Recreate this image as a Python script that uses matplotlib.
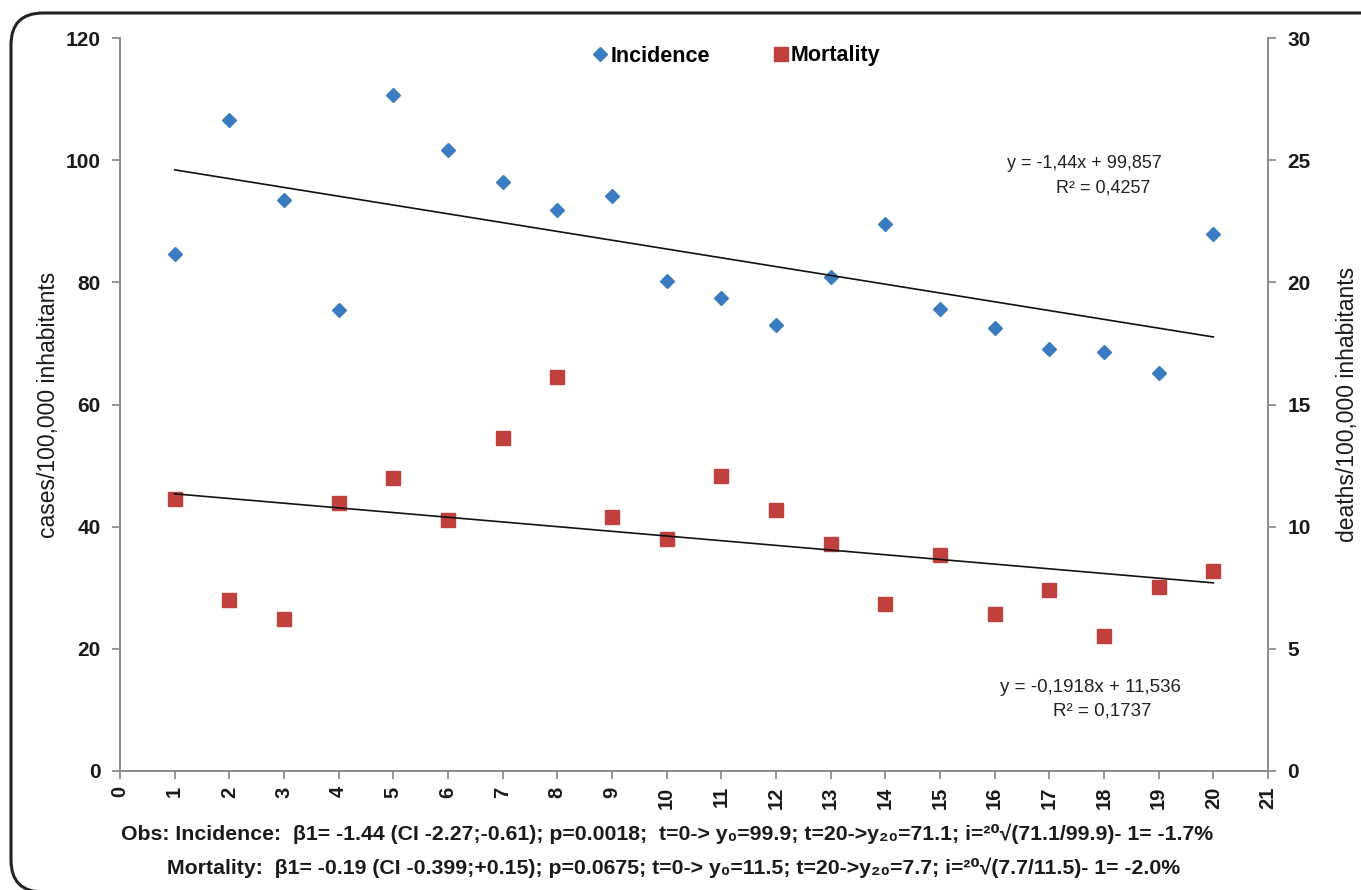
import numpy as np
import matplotlib.pyplot as plt
from matplotlib.patches import FancyBboxPatch

# data
years = np.arange(1, 21)
incidence = [84.6, 106.5, 93.4, 75.5, 110.7, 101.6, 96.5, 91.8, 94.2, 80.2,
             77.4, 73.0, 80.8, 89.6, 75.7, 72.5, 69.1, 68.6, 65.2, 87.9]
mortality = [11.13, 6.99, 6.24, 10.97, 11.98, 10.29, 13.64, 16.14, 10.41, 9.50,
             12.09, 10.70, 9.31, 6.85, 8.83, 6.44, 7.41, 5.54, 7.53, 8.20]

# trendline coefficients shown on the chart
inc_fit = (-1.44, 99.857)
mort_fit = (-0.1918, 11.536)
inc_eq = ["y = -1,44x + 99,857", "R² = 0,4257"]
mort_eq = ["y = -0,1918x + 11,536", "R² = 0,1737"]

note1 = "Obs: Incidence:  β1= -1.44 (CI -2.27;-0.61); p=0.0018;  t=0-> y₀=99.9; t=20->y₂₀=71.1; i=²⁰√(71.1/99.9)- 1= -1.7%"
note2 = "Mortality:  β1= -0.19 (CI -0.399;+0.15); p=0.0675; t=0-> y₀=11.5; t=20->y₂₀=7.7; i=²⁰√(7.7/11.5)- 1= -2.0%"

blue = "#3B7CC0"
red = "#C0403D"
grey = "#8C8C8C"

plt.rcParams['font.family'] = ['Liberation Sans', 'DejaVu Sans']

W, H = 1361, 890
fig = plt.figure(figsize=(W / 100, H / 100), dpi=100)
ax = fig.add_axes([120 / W, 1 - 771 / H, 1148 / W, 733 / H])
ax2 = ax.twinx()

# rounded frame around the whole figure (right side runs off the picture)
fig.patches.append(FancyBboxPatch((11, -2), 1385, 879,
                                  boxstyle="round,pad=0,rounding_size=32",
                                  transform=None, fill=False,
                                  edgecolor="#222222", linewidth=2.2))

h1, = ax.plot(years, incidence, linestyle="none", marker="D", markersize=7.5,
              color=blue, label="Incidence")
h2, = ax2.plot(years, mortality, linestyle="none", marker="s", markersize=10.5,
               color=red, label="Mortality")

xs = np.array([1, 20])
ax.plot(xs, inc_fit[0] * xs + inc_fit[1], color="#111111", linewidth=1.2)
ax2.plot(xs, mort_fit[0] * xs + mort_fit[1], color="#111111", linewidth=1.2)

ax.set_xlim(0, 21)
ax.set_ylim(0, 120)
ax2.set_ylim(0, 30)
ax.set_xticks(range(0, 22))
ax.set_yticks(range(0, 121, 20))
ax2.set_yticks(range(0, 31, 5))

for a in (ax, ax2):
    a.spines["top"].set_visible(False)
    for s in ("left", "right", "bottom"):
        a.spines[s].set_color(grey)
        a.spines[s].set_linewidth(1.3)
    a.tick_params(length=6, width=1.3, color=grey, labelsize=15, pad=8)
    for lab in a.get_yticklabels():
        lab.set_fontweight("bold")
        lab.set_color("#1a1a1a")

ax.tick_params(axis="x", labelrotation=90, labelsize=14.5, pad=5)
for lab in ax.get_xticklabels():
    lab.set_fontweight("bold")
    lab.set_color("#1a1a1a")

ax.set_ylabel("cases/100,000 inhabitants", fontsize=16.5, color="#1a1a1a", labelpad=4)
ax2.set_ylabel("deaths/100,000 inhabitants", fontsize=16.5, color="#1a1a1a", labelpad=18)

fig.legend(handles=[h1, h2], loc="center", bbox_to_anchor=(737 / W, 1 - 56 / H),
           ncol=2, frameon=False, handlelength=0.6, handletextpad=0.15,
           columnspacing=3.0, prop={"weight": "bold", "size": 15.5})

# trendline equations
fig.text(1084 / W, 1 - 163 / H, inc_eq[0], ha="center", va="center", fontsize=13, color="#222222")
fig.text(1103 / W, 1 - 188 / H, inc_eq[1], ha="center", va="center", fontsize=13, color="#222222")
fig.text(1090 / W, 1 - 687 / H, mort_eq[0], ha="center", va="center", fontsize=13.5, color="#222222")
fig.text(1102 / W, 1 - 711 / H, mort_eq[1], ha="center", va="center", fontsize=13.5, color="#222222")

fig.text(667 / W, 1 - 834 / H, note1, ha="center", va="center", fontsize=15.3,
         fontweight="bold", color="#1a1a1a")
fig.text(674 / W, 1 - 868 / H, note2, ha="center", va="center", fontsize=15.3,
         fontweight="bold", color="#1a1a1a")

fig.savefig("out.png", dpi=100)
